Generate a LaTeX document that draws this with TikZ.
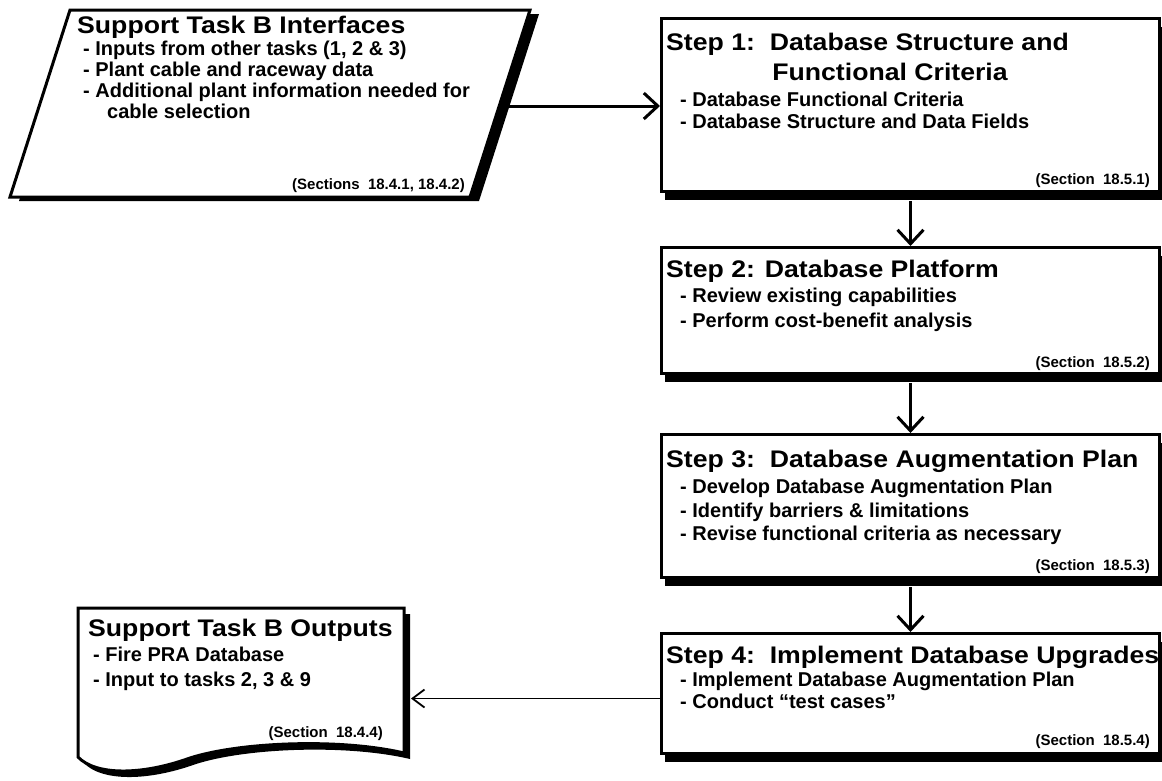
\documentclass[tikz,border=0pt]{standalone}
\usepackage{fontspec}
\setmainfont{Liberation Sans}
\newfontfamily\ttlfam{Liberation Sans}[FakeStretch=1.11]
\usetikzlibrary{arrows.meta,shadows}
\newcommand\mybody{\fontsize{20}{24}\selectfont\bfseries}
\newcommand\mytitle{\ttlfam\fontsize{24}{28}\selectfont\bfseries}
\newcommand\mysec{\fontsize{15}{18}\selectfont\bfseries}
\begin{document}
\begin{tikzpicture}[x=1pt,y=-1pt,
  blackshadow/.style={drop shadow={shadow xshift=#1, shadow yshift=-8pt, opacity=1, fill=black}},
  stepbox/.style={draw, line width=3pt, fill=white, rectangle, inner sep=0pt,
    anchor=north west, minimum width=498pt, blackshadow=3pt},
  frame/.style={draw, line width=3pt, fill=white, line join=miter},
  ttl/.style={anchor=base west, inner sep=0pt, font=\mytitle},
  bul/.style={anchor=base west, inner sep=0pt, font=\mybody},
  sec/.style={anchor=base east, inner sep=0pt, font=\mysec},
  bigarrow/.style={line width=3pt, -{Straight Barb[length=14pt,width=26pt]}},
  thinarrow/.style={line width=1.8pt, -{Straight Barb[length=12pt,width=18pt]}}]
\fill[white] (0,0) rectangle (1162,780);
\useasboundingbox (0,0) rectangle (1162,780);

% input parallelogram
\draw[frame, drop shadow={shadow xshift=9pt, shadow yshift=-4pt, opacity=1, fill=black}]
  (70,10) -- (530,10) -- (470,197) -- (10,197) -- cycle;
\coordinate (inR) at (499,106);
\node[ttl] (i0) at (77,33) {Support Task B Interfaces};
\node[bul] (i1) at (83,55) {- Inputs from other tasks (1, 2 \& 3)};
\node[bul] (i2) at (83,76) {- Plant cable and raceway data};
\node[bul] (i3) at (83,97) {- Additional plant information needed for};
\node[bul] (i4) at (107,118) {cable selection};
\node[sec] (i5) at (465,189) {(Sections\ \ 18.4.1, 18.4.2)};

% steps
\node[stepbox, minimum height=173pt] (s1) at (660,17) {};
\node[stepbox, minimum height=126pt] (s2) at (660,246) {};
\node[stepbox, minimum height=143pt] (s3) at (660,433) {};
\node[stepbox, minimum height=120pt] (s4) at (660,632) {};

\node[ttl] (a0) at (666,50) {Step 1:\ \ Database Structure and};
\node[anchor=base, inner sep=0pt, font=\mytitle] (a1) at (890,80) {Functional Criteria};
\node[bul] (a2) at (680,106) {- Database Functional Criteria};
\node[bul] (a3) at (680,128) {- Database Structure and Data Fields};
\node[sec] (a4) at (1150,184) {(Section\ \ 18.5.1)};

\node[ttl] (b0) at (666,277) {Step 2: Database Platform};
\node[bul] (b1) at (680,302) {- Review existing capabilities};
\node[bul] (b2) at (680,327) {- Perform cost-benefit analysis};
\node[sec] (b3) at (1150,367) {(Section\ \ 18.5.2)};

\node[ttl] (c0) at (666,467) {Step 3:\ \ Database Augmentation Plan};
\node[bul] (c1) at (680,493) {- Develop Database Augmentation Plan};
\node[bul] (c2) at (680,517) {- Identify barriers \& limitations};
\node[bul] (c3) at (680,540) {- Revise functional criteria as necessary};
\node[sec] (c4) at (1150,570) {(Section\ \ 18.5.3)};

\node[ttl] (d0) at (666,663) {Step 4:\ \ Implement Database Upgrades};
\node[bul] (d1) at (680,686) {- Implement Database Augmentation Plan};
\node[bul] (d2) at (680,708) {- Conduct ``test cases''};
\node[sec] (d3) at (1150,745) {(Section\ \ 18.5.4)};

% output document
\draw[frame, drop shadow={shadow xshift=6pt, shadow yshift=-6pt, opacity=1, fill=black}]
  (78,608) -- (404,608) -- (404,753)
  .. controls (340,738) and (240,742) .. (190,758)
  .. controls (140,776) and (95,775) .. (78,757) -- cycle;
\coordinate (outR) at (411,0);
\node[ttl] (o0) at (88,636) {Support Task B Outputs};
\node[bul] (o1) at (93,661) {- Fire PRA Database};
\node[bul] (o2) at (93,686) {- Input to tasks 2, 3 \& 9};
\node[sec] (o3) at (383,737) {(Section\ \ 18.4.4)};

% connectors
\draw[bigarrow] (s1.south) ++(0,8) -- (s2.north);
\draw[bigarrow] (s2.south) ++(0,8) -- (s3.north);
\draw[bigarrow] (s3.south) ++(0,8) -- (s4.north);
\draw[bigarrow] (inR) -- (s1.west |- inR);
\draw[thinarrow] ([yshift=-5pt]s4.west) -- ([yshift=-5pt]s4.west -| outR);
\end{tikzpicture}
\end{document}
